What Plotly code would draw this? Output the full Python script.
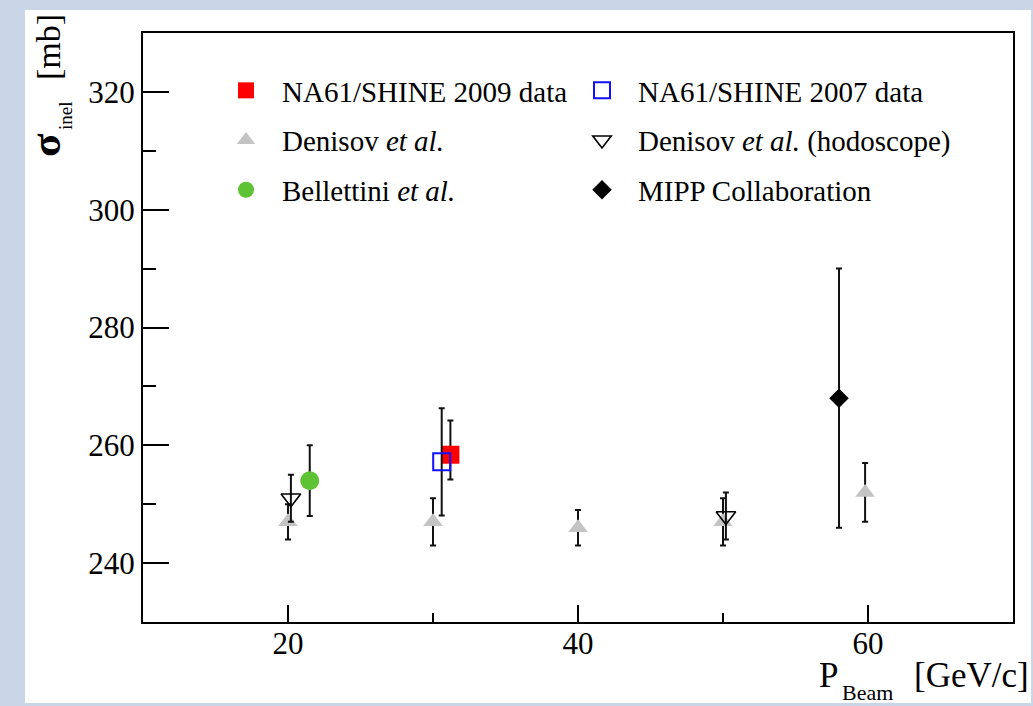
import plotly.graph_objects as go

# Inelastic cross-section measurements vs beam momentum
# NA61/SHINE 2009
na61_09_p = [31.2]
na61_09_sig = [258.4]
na61_09_up = [5.8]
na61_09_dn = [4.2]

# NA61/SHINE 2007
na61_07_p = [30.6]
na61_07_sig = [257.2]
na61_07_err = [9.1]

# Denisov et al.
den_p = [20, 30, 40, 50, 59.8]
den_sig = [247, 247, 246, 247, 252]
den_err = [3, 4, 3, 4, 5]

# Denisov et al. (hodoscope)
hodo_p = [20.2, 50.2]
hodo_sig = [251, 248]
hodo_err = [4, 4]

# Bellettini et al.
bell_p = [21.5]
bell_sig = [254]
bell_err = [6]

# MIPP Collaboration
mipp_p = [58.0]
mipp_sig = [268]
mipp_err = [22]

x_range = [10, 70]
y_range = [230, 330]

FONT = "Liberation Serif"
W, H = 1033, 706
ML, MR, MT, MB = 143, 20, 33, 84
PW, PH = W - ML - MR, H - MT - MB


def px(x):
    return (x - ML) / PW


def py(y):
    return (H - MB - y) / PH


def err(vals, minus=None, width=3):
    d = dict(type="data", array=vals, color="#111111", thickness=2, width=width, visible=True)
    if minus is not None:
        d["symmetric"] = False
        d["arrayminus"] = minus
    return d


fig = go.Figure()

fig.add_trace(go.Scatter(
    x=den_p, y=den_sig, mode="markers", name="Denisov <i>et al.</i>",
    marker=dict(symbol="triangle-up", size=17, color="#c4c4c4", line=dict(width=0)),
    error_y=err(den_err), legend="legend", legendgroup="g2", legendrank=2,
))
fig.add_trace(go.Scatter(
    x=hodo_p, y=hodo_sig, mode="markers", name="Denisov <i>et al.</i> (hodoscope)",
    marker=dict(symbol="triangle-down-open", size=17, color="#000000", line=dict(width=1.6)),
    error_y=err(hodo_err), legend="legend2", legendgroup="g5", legendrank=5,
))
fig.add_trace(go.Scatter(
    x=bell_p, y=bell_sig, mode="markers", name="Bellettini <i>et al.</i>",
    marker=dict(symbol="circle", size=19, color="#5ec334", line=dict(width=0)),
    error_y=err(bell_err), legend="legend", legendgroup="g3", legendrank=3,
))
fig.add_trace(go.Scatter(
    x=na61_09_p, y=na61_09_sig, mode="markers", name="NA61/SHINE 2009 data",
    marker=dict(symbol="square", size=18, color="#ff0000", line=dict(width=0)),
    error_y=err(na61_09_up, na61_09_dn), legend="legend", legendgroup="g1", legendrank=1,
))
fig.add_trace(go.Scatter(
    x=na61_07_p, y=na61_07_sig, mode="markers", name="NA61/SHINE 2007 data",
    marker=dict(symbol="square-open", size=17, color="#1010ff", line=dict(width=2)),
    error_y=err(na61_07_err), legend="legend2", legendgroup="g4", legendrank=4,
))
fig.add_trace(go.Scatter(
    x=mipp_p, y=mipp_sig, mode="markers", name="MIPP Collaboration",
    marker=dict(symbol="diamond", size=15, color="#000000", line=dict(width=0)),
    error_y=err(mipp_err), legend="legend2", legendgroup="g6", legendrank=6,
))

axis_common = dict(
    showline=True, linecolor="black", linewidth=2, mirror=True,
    ticks="inside", tickcolor="black", tickwidth=2,
    showgrid=False, zeroline=False,
    tickfont=dict(family=FONT, size=31, color="black"),
)

fig.update_xaxes(
    range=x_range, tick0=0, dtick=20, ticklen=17, ticklabelstandoff=-7,
    minor=dict(dtick=10, tick0=0, ticklen=9, tickwidth=2, tickcolor="black", ticks="inside"),
    **axis_common,
)
fig.update_yaxes(
    range=y_range, tick0=0, dtick=20, ticklen=26,
    minor=dict(dtick=10, tick0=0, ticklen=13, tickwidth=2, tickcolor="black", ticks="inside"),
    **axis_common,
)

legend_common = dict(
    orientation="v", bgcolor="rgba(0,0,0,0)", borderwidth=0,
    font=dict(family=FONT, size=29, color="black"),
    itemwidth=62, tracegroupgap=9, yanchor="top", xanchor="left",
    itemclick=False,
)

# Outer page frame and white panel
shapes = [
    dict(type="rect", xref="paper", yref="paper",
         x0=px(25), x1=px(1031), y0=py(703), y1=py(10),
         fillcolor="white", line=dict(width=0), layer="below"),
]

annotations = [
    # y-axis title pieces
    dict(text="<b>σ</b>", x=px(45), y=py(145), textangle=-90, showarrow=False,
         xref="paper", yref="paper", xanchor="center", yanchor="middle",
         font=dict(family=FONT, size=43, color="black")),
    dict(text="inel", x=px(65), y=py(116), textangle=-90, showarrow=False,
         xref="paper", yref="paper", xanchor="center", yanchor="middle",
         font=dict(family=FONT, size=19, color="black")),
    dict(text="[mb]", x=px(48), y=py(47), textangle=-90, showarrow=False,
         xref="paper", yref="paper", xanchor="center", yanchor="middle",
         font=dict(family=FONT, size=34, color="black")),
    # x-axis title pieces
    dict(text="P", x=px(828), y=py(675), showarrow=False,
         xref="paper", yref="paper", xanchor="center", yanchor="middle",
         font=dict(family=FONT, size=35, color="black")),
    dict(text="Beam", x=px(867), y=py(692), showarrow=False,
         xref="paper", yref="paper", xanchor="center", yanchor="middle",
         font=dict(family=FONT, size=22, color="black")),
    dict(text="[GeV/c]", x=px(1031), y=py(675), showarrow=False,
         xref="paper", yref="paper", xanchor="right", yanchor="middle",
         font=dict(family=FONT, size=35, color="black")),
]

fig.update_layout(
    width=W, height=H,
    margin=dict(l=ML, r=MR, t=MT, b=MB, pad=0),
    paper_bgcolor="#cad6e8", plot_bgcolor="white",
    showlegend=True,
    legend=dict(x=px(210), y=py(65), **legend_common),
    legend2=dict(x=px(566), y=py(65), **legend_common),
    shapes=shapes, annotations=annotations,
)

fig.write_html("out.html")
